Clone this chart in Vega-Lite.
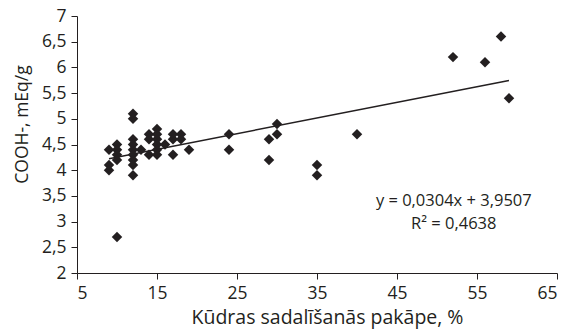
{
  "$schema": "https://vega.github.io/schema/vega-lite/v6.json",
  "autosize": {"type": "none"},
  "width": 480,
  "height": 257,
  "padding": {"left": 77, "top": 16, "right": 6, "bottom": 58},
  "background": "white",
  "config": {
    "view": {"stroke": null},
    "font": "Open Sans",
    "axis": {
      "grid": false,
      "domainColor": "#231f20",
      "tickColor": "#231f20",
      "labelColor": "#231f20",
      "titleColor": "#231f20",
      "labelFont": "Open Sans",
      "titleFont": "Open Sans",
      "labelFontSize": 17.5,
      "titleFontSize": 17.5,
      "titleFontWeight": "normal",
      "labelOverlap": false,
      "tickSize": 6,
      "domainWidth": 1,
      "tickWidth": 1
    }
  },
  "datasets": {
    "points": [
      {"pakape": 9, "cooh": 4.4}, {"pakape": 9, "cooh": 4.1}, {"pakape": 9, "cooh": 4.0},
      {"pakape": 10, "cooh": 4.5}, {"pakape": 10, "cooh": 4.4}, {"pakape": 10, "cooh": 4.3},
      {"pakape": 10, "cooh": 4.2}, {"pakape": 10, "cooh": 2.7},
      {"pakape": 12, "cooh": 5.1}, {"pakape": 12, "cooh": 5.0}, {"pakape": 12, "cooh": 4.6},
      {"pakape": 12, "cooh": 4.5}, {"pakape": 12, "cooh": 4.4}, {"pakape": 12, "cooh": 4.3},
      {"pakape": 12, "cooh": 4.2}, {"pakape": 12, "cooh": 4.1}, {"pakape": 12, "cooh": 3.9},
      {"pakape": 13, "cooh": 4.4},
      {"pakape": 14, "cooh": 4.7}, {"pakape": 14, "cooh": 4.6}, {"pakape": 14, "cooh": 4.3},
      {"pakape": 15, "cooh": 4.8}, {"pakape": 15, "cooh": 4.7}, {"pakape": 15, "cooh": 4.6},
      {"pakape": 15, "cooh": 4.5}, {"pakape": 15, "cooh": 4.4}, {"pakape": 15, "cooh": 4.3},
      {"pakape": 16, "cooh": 4.5},
      {"pakape": 17, "cooh": 4.7}, {"pakape": 17, "cooh": 4.6}, {"pakape": 17, "cooh": 4.3},
      {"pakape": 18, "cooh": 4.7}, {"pakape": 18, "cooh": 4.6},
      {"pakape": 19, "cooh": 4.4},
      {"pakape": 24, "cooh": 4.7}, {"pakape": 24, "cooh": 4.4},
      {"pakape": 29, "cooh": 4.6}, {"pakape": 29, "cooh": 4.2},
      {"pakape": 30, "cooh": 4.9}, {"pakape": 30, "cooh": 4.7},
      {"pakape": 35, "cooh": 4.1}, {"pakape": 35, "cooh": 3.9},
      {"pakape": 40, "cooh": 4.7},
      {"pakape": 52, "cooh": 6.2}, {"pakape": 56, "cooh": 6.1},
      {"pakape": 58, "cooh": 6.6}, {"pakape": 59, "cooh": 5.4}
    ],
    "trend": [
      {"pakape": 9, "cooh": 4.2243},
      {"pakape": 59, "cooh": 5.7443}
    ],
    "labels": [
      {"pakape": 52.1, "cooh": 3.4, "txt": "y = 0,0304x + 3,9507"},
      {"pakape": 52.1, "cooh": 2.95, "txt": "R² = 0,4638"}
    ]
  },
  "encoding": {
    "x": {
      "field": "pakape", "type": "quantitative",
      "scale": {"domain": [5, 65], "nice": false, "zero": false},
      "axis": {
        "values": [5, 15, 25, 35, 45, 55, 65],
        "title": "Kūdras sadalīšanās pakāpe, %",
        "titleFontSize": 19.5,
        "titleX": 250,
        "titlePadding": 7,
        "labelPadding": 5,
        "labelOverlap": false
      }
    },
    "y": {
      "field": "cooh", "type": "quantitative",
      "scale": {"domain": [2, 7], "nice": false, "zero": false},
      "axis": {
        "values": [2, 2.5, 3, 3.5, 4, 4.5, 5, 5.5, 6, 6.5, 7],
        "labelExpr": "replace(format(datum.value, '.2~f'), '.', ',')",
        "labelOverlap": false,
        "title": "COOH-, mEq/g",
        "titleY": 108,
        "titlePadding": 10,
        "labelPadding": 5
      }
    }
  },
  "layer": [
    {
      "data": {"name": "trend"},
      "mark": {"type": "line", "color": "#231f20", "strokeWidth": 1.5}
    },
    {
      "data": {"name": "points"},
      "mark": {"type": "point", "shape": "diamond", "filled": true, "size": 110, "color": "#231f20", "opacity": 1}
    },
    {
      "data": {"name": "labels"},
      "mark": {"type": "text", "fontSize": 16.5, "color": "#231f20", "align": "center", "baseline": "middle"},
      "encoding": {
        "text": {"field": "txt"}
      }
    }
  ]
}
